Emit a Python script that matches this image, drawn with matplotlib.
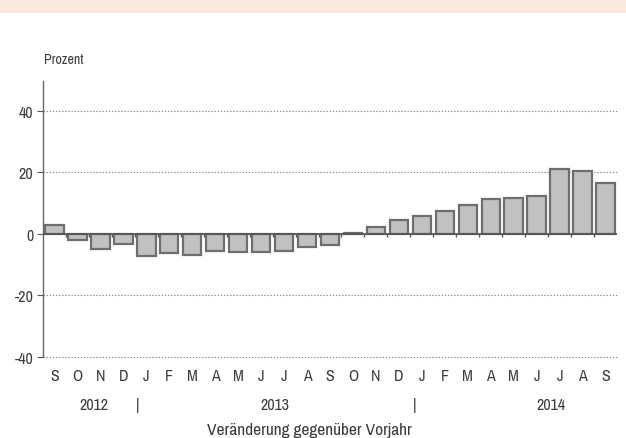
import matplotlib
matplotlib.use("Agg")
import matplotlib.pyplot as plt
import numpy as np
from matplotlib.patches import Rectangle
from matplotlib import font_manager

months = ["S", "O", "N", "D", "J", "F", "M", "A", "M", "J", "J", "A",
          "S", "O", "N", "D", "J", "F", "M", "A", "M", "J", "J", "A", "S"]
values = [2.8, -2.1, -5.0, -3.3, -7.1, -6.1, -6.8, -5.7, -6.0, -6.0, -5.4, -4.3,
          -3.6, 0.3, 2.4, 4.6, 5.8, 7.6, 9.3, 11.5, 11.7, 12.3, 21.1, 20.6, 16.6]
years = ["2012", "2013", "2014"]
year_pos = [1.7, 9.6, 21.6]
separators = [3.6, 15.7]
yticks = [-40, -20, 0, 20, 40]

# pick a narrow face if one is installed
names = sorted({f.name for f in font_manager.fontManager.ttflist})
narrow = [n for n in names if 'Narrow' in n or 'Condensed' in n]
fam = narrow[0] if narrow else 'DejaVu Sans'
plt.rcParams['font.family'] = [fam, 'DejaVu Sans']
txt = '#3c3c3c'

fig = plt.figure(figsize=(6.26, 4.39), dpi=100)
fig.patches.append(Rectangle((0, 1 - 14 / 439), 1, 14 / 439, transform=fig.transFigure,
                             facecolor='#fbe8df', edgecolor='none', zorder=0))
ax = fig.add_axes([43 / 626, 81 / 439, 574 / 626, 276 / 439])

x = np.arange(len(values))
ax.bar(x, values, width=0.8, color='#c1c1c1', edgecolor='#6e6e6e', linewidth=1.6, zorder=3)

for y in [-40, -20, 20, 40]:
    ax.axhline(y, color='#888888', linestyle=(0, (1.2, 1.6)), linewidth=0.8, zorder=1, clip_on=False)
ax.axhline(0, color='#555555', linewidth=1.3, zorder=4)
ax.vlines(np.arange(0.5, len(values) - 0.5, 1), -1.1, 0, color='#555555', linewidth=1.0, zorder=2)

ax.set_xlim(-0.5, len(values) - 0.5)
ax.set_ylim(-40, 49.7)
ax.set_yticks(yticks)
ax.set_yticklabels([str(v) for v in yticks], color=txt, fontsize=11.5)
ax.tick_params(axis='y', length=4, width=0.8, color='#555555', pad=3)
ax.set_xticks([])
for s in ['top', 'right', 'bottom']:
    ax.spines[s].set_visible(False)
ax.spines['left'].set_color('#666666')
ax.spines['left'].set_linewidth(1.0)

for i, m in enumerate(months):
    ax.text(i, -45.9, m, ha='center', va='center', fontsize=11.5, color=txt, clip_on=False)
for p, yr in zip(year_pos, years):
    ax.text(p, -55.6, yr, ha='center', va='center', fontsize=11.5, color=txt, clip_on=False)
for p in separators:
    ax.text(p, -55.6, "|", ha='center', va='center', fontsize=11.5, color=txt, clip_on=False)
ax.text(11.1, -63.6, "Veränderung gegenüber Vorjahr", ha='center', va='center',
        fontsize=12.5, color=txt, clip_on=False)
fig.text(44 / 626, 1 - 60 / 439, "Prozent", ha='left', va='center', fontsize=10, color=txt)

fig.savefig("out.png", dpi=100)
